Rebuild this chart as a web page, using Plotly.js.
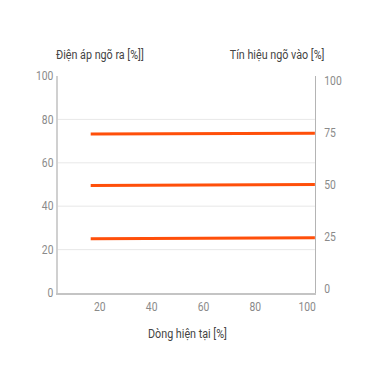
<!DOCTYPE html>
<html>
<head>
<meta charset="utf-8">
<script src="https://cdn.plot.ly/plotly-3.0.1.min.js"></script>
<style>
  html, body { margin: 0; padding: 0; background: #fff; overflow: hidden; width: 370px; height: 370px; }
  /* narrow-set type: the figure is laid out wider and compressed horizontally */
  #chart { width: 430px; height: 370px; transform: scaleX(0.8605); transform-origin: 0 0; }
</style>
</head>
<body>
<div id="chart"></div>
<script>
// Output voltage vs. current, one line per input-signal level
const currentPct = [16.5, 103];
const outLow = [25.0, 25.5];
const outMid = [49.5, 50.0];
const outHigh = [73.3, 73.6];

const leftTicks = [0, 20, 40, 60, 80, 100];
const rightTicks = [0, 25, 50, 75, 100];
const xTicks = [20, 40, 60, 80, 100];

const titleLeft = 'Điện áp ngõ ra [%]]';
const titleRight = 'Tín hiệu ngõ vào [%]';
const titleX = 'Dòng hiện tại [%]';

const lineColor = '#ff4f0a';
const font = 'Roboto, "Noto Sans", sans-serif';

const traces = [outLow, outMid, outHigh].map(ys => ({
  x: currentPct,
  y: ys,
  type: 'scatter',
  mode: 'lines',
  line: { color: lineColor, width: 3 },
  hoverinfo: 'skip',
  showlegend: false
}));

// invisible trace so the right axis is drawn
traces.push({
  x: [currentPct[0]], y: [0], yaxis: 'y2', type: 'scatter', mode: 'markers',
  marker: { opacity: 0 }, showlegend: false, hoverinfo: 'skip'
});

const tickFont = { family: font, size: 12, color: '#8a8a8a' };
const titleFont = { family: font, size: 12.5, color: '#444' };

const layout = {
  width: 430, height: 370,
  margin: { l: 67, r: 64, t: 76, b: 77 },
  paper_bgcolor: '#fff', plot_bgcolor: '#fff',
  font: { family: font, size: 12, color: '#888' },
  showlegend: false,
  xaxis: {
    range: [3.75, 103],
    tickvals: xTicks,
    showgrid: false, zeroline: false,
    showline: true, linecolor: '#c4c4c4', linewidth: 1.5,
    ticks: '', ticklabelstandoff: 2,
    tickfont: tickFont,
    fixedrange: true
  },
  yaxis: {
    range: [0, 100],
    tickvals: leftTicks,
    showgrid: true, gridcolor: '#e6e6e6', gridwidth: 1,
    zeroline: false,
    showline: true, linecolor: '#d0d0d0', linewidth: 1.5,
    ticks: '', ticklabelstandoff: 1,
    tickfont: tickFont,
    fixedrange: true
  },
  yaxis2: {
    overlaying: 'y', side: 'right',
    range: [-2, 102.3],
    tickvals: rightTicks,
    showgrid: false, zeroline: false,
    showline: true, linecolor: '#b4b4b4', linewidth: 1.5,
    ticks: '', ticklabelstandoff: 7,
    tickfont: tickFont,
    fixedrange: true
  },
  annotations: [
    { text: titleLeft, xref: 'paper', yref: 'paper', x: 0.163, y: 1.101,
      xanchor: 'center', yanchor: 'middle', showarrow: false, font: titleFont },
    { text: titleRight, xref: 'paper', yref: 'paper', x: 0.852, y: 1.101,
      xanchor: 'center', yanchor: 'middle', showarrow: false, font: titleFont },
    { text: titleX, xref: 'paper', yref: 'paper', x: 0.506, y: -0.186,
      xanchor: 'center', yanchor: 'middle', showarrow: false, font: titleFont }
  ]
};

Plotly.newPlot('chart', traces, layout, { displayModeBar: false, staticPlot: true });
</script>
</body>
</html>
